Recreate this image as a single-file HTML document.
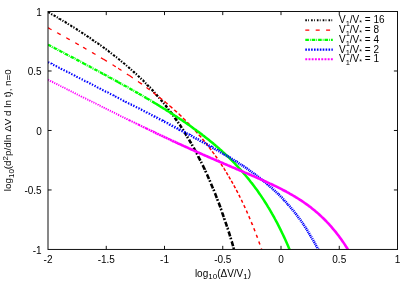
<!DOCTYPE html><html><head><meta charset="utf-8"><style>html,body{margin:0;padding:0;background:#fff}body{width:415px;height:291px;overflow:hidden;position:relative;font-family:"Liberation Sans",sans-serif}</style></head><body><svg width="415" height="291" viewBox="0 0 415 291" style="position:absolute;left:0;top:0;will-change:transform">
<defs><clipPath id="c"><rect x="48.00" y="11.50" width="349.50" height="237.95"/></clipPath></defs>
<rect width="415" height="291" fill="#fff"/>
<g clip-path="url(#c)" fill="none">
<path d="M48.0,11.9L48.2,12.1L49.2,12.7L50.0,13.1M51.2,13.8L51.2,13.8L52.2,14.4L52.3,14.4M53.6,15.2L53.8,15.3L54.8,15.9L55.6,16.4M56.8,17.1L57.0,17.2L57.8,17.7M59.2,18.5L59.2,18.6L60.2,19.2L61.2,19.7M62.4,20.4L62.5,20.5L63.4,21.1M64.7,21.9L64.8,21.9L65.8,22.5L66.7,23.1M67.9,23.8L68.0,23.9L68.9,24.5M70.3,25.3L70.5,25.4L71.5,26.1L72.3,26.5M73.4,27.3L73.5,27.3L74.5,27.9M75.8,28.8L76.0,28.9L77.0,29.5L77.8,30.0M78.9,30.7L79.0,30.8L79.9,31.4M81.2,32.3L81.2,32.3L82.2,32.9L83.2,33.5M84.3,34.3L84.5,34.4L85.4,35.0M86.7,35.8L86.8,35.9L87.8,36.5L88.6,37.1M89.7,37.9L89.8,37.9L90.8,38.6L90.8,38.6M92.1,39.5L92.2,39.6L93.2,40.3L94.0,40.8M95.1,41.5L95.2,41.6L96.1,42.3M97.4,43.2L97.5,43.2L98.5,43.9L99.3,44.5M100.4,45.3L100.5,45.3L101.4,46.0M102.7,46.9L102.8,47.0L103.8,47.7L104.6,48.3M105.7,49.1L105.8,49.1L106.7,49.8M107.9,50.8L108.0,50.8L109.0,51.6L109.8,52.2M110.9,53.0L111.0,53.1L111.9,53.7M113.1,54.7L113.2,54.8L114.2,55.6L115.0,56.1M116.0,57.0L116.2,57.1L117.0,57.7M118.2,58.7L118.2,58.7L119.2,59.5L120.1,60.2M121.1,61.0L121.2,61.1L122.1,61.8M123.3,62.8L123.5,63.0L124.5,63.8L125.1,64.3M126.1,65.2L126.2,65.3L127.0,66.0M128.2,67.0L128.2,67.0L129.2,67.9L130.0,68.5" stroke="#000000" stroke-width="2.10"/>
<path d="M131.0,69.4L131.2,69.6L131.9,70.2M133.1,71.3L133.2,71.4L134.2,72.3L134.8,72.9M135.8,73.8L136.0,73.9L136.7,74.6M137.9,75.7L138.0,75.8L139.0,76.7L139.6,77.3M140.6,78.2L140.8,78.4L141.5,79.1M142.6,80.2L142.8,80.3L143.8,81.3L144.3,81.8M145.2,82.8L145.2,82.8L146.1,83.6M147.2,84.7L147.2,84.8L148.2,85.9L148.8,86.4M149.7,87.4L149.8,87.4L150.6,88.3" stroke="#000000" stroke-width="2.27"/>
<path d="M151.7,89.4L151.8,89.5L152.8,90.6L153.3,91.2M154.2,92.2L154.2,92.3L155.1,93.2M156.1,94.3L156.2,94.5L157.2,95.6L157.9,96.3M158.8,97.4L159.0,97.6L159.6,98.3M160.7,99.6L160.8,99.7L161.8,100.9L162.5,101.8M163.4,102.9L163.5,103.0L164.3,103.9M165.3,105.2L165.5,105.4L166.5,106.7L167.2,107.6M168.2,108.8L168.2,108.9L169.0,109.9" stroke="#000000" stroke-width="2.44"/>
<path d="M170.0,111.3L170.2,111.5L171.2,112.9L172.0,113.9M172.9,115.2L173.0,115.3L173.8,116.3M174.8,117.7L175.0,118.0L176.0,119.4L176.9,120.7M177.8,122.0L178.0,122.3L178.6,123.2M179.6,124.7L179.8,124.9L180.8,126.4L181.7,127.9M182.6,129.2L182.8,129.5L183.4,130.5M184.4,132.1L184.5,132.2L185.5,133.8L186.5,135.5L186.6,135.6M187.2,136.7L187.2,136.7L188.0,138.0M189.0,139.6L189.2,140.0L190.2,141.8L191.2,143.4M191.9,144.5L192.0,144.8L192.6,145.9M193.6,147.6L193.8,147.9L194.8,149.8L195.8,151.6L195.8,151.8M196.4,152.9L196.5,153.0L197.2,154.3M198.1,156.1L198.2,156.4L199.2,158.3L200.2,160.3L200.4,160.6M201.0,161.8L201.0,161.8L201.7,163.2M202.6,165.1L202.8,165.4L203.8,167.5L204.8,169.6L204.8,169.7M205.4,170.9L205.5,171.2L206.1,172.4M206.9,174.3L207.0,174.5L208.0,176.7L209.0,179.0L209.0,179.0M209.6,180.2L209.8,180.7L210.2,181.7M211.0,183.7L211.2,184.2L212.2,186.6L213.0,188.4M213.5,189.6L213.8,190.2L214.1,191.2M214.9,193.1L215.0,193.3L216.0,195.9L216.8,197.9M217.3,199.1L217.5,199.7L217.9,200.7M218.6,202.6L218.8,203.0L219.8,205.7L220.4,207.4M220.8,208.7L221.0,209.1L221.4,210.2M222.1,212.2L222.2,212.6L223.2,215.5L223.8,217.0M224.2,218.3L224.2,218.4L224.8,219.9M225.4,221.8L225.5,222.1L226.5,225.1L227.0,226.7M227.4,228.0L227.5,228.1L228.0,229.5M228.6,231.5L228.8,232.0L229.8,235.2L230.1,236.4M230.5,237.7L230.8,238.4L231.0,239.3M231.6,241.3L231.8,241.7L232.8,245.1L233.1,246.2M233.5,247.5L233.5,247.6L233.9,249.0M234.5,251.1L234.5,251.1L235.2,253.7" stroke="#000000" stroke-width="2.60"/>
<path d="M48.0,27.8L48.2,27.9L49.2,28.4L50.2,29.0L51.2,29.5L51.5,29.7M57.1,32.7L57.2,32.8L58.2,33.3L59.2,33.9L60.2,34.4L60.6,34.7M66.2,37.8L66.2,37.8L67.2,38.3L68.2,38.9L69.2,39.4L69.7,39.7M75.3,42.8L75.5,42.9L76.5,43.5L77.5,44.1L78.5,44.6L78.8,44.8M83.1,47.2L83.2,47.3L84.2,47.9L85.2,48.5L86.2,49.1L86.5,49.2M92.1,52.4L92.2,52.5L93.2,53.1L94.2,53.7L95.2,54.3L95.5,54.5M101.0,57.7L101.2,57.9L102.2,58.5L103.2,59.1L103.6,59.3M103.6,59.3L103.8,59.4L104.8,60.0L105.8,60.6L106.8,61.2L107.0,61.3M112.5,64.7L112.5,64.7L113.5,65.3L114.5,66.0L115.5,66.6L115.8,66.8M118.1,68.3L118.2,68.3L119.2,69.0L120.2,69.6L121.2,70.3L121.5,70.4M126.9,73.9L127.0,74.0L128.0,74.7L129.0,75.3L129.4,75.6M129.4,75.6L129.5,75.6L130.5,76.3L131.5,77.0L132.5,77.7L132.8,77.8" stroke="#ff0000" stroke-width="1.25"/>
<path d="M138.0,81.5L138.2,81.6L138.7,81.9M138.7,81.9L138.8,82.0L139.8,82.7L140.8,83.4L141.8,84.1L141.9,84.2M146.5,87.5L146.5,87.5L147.5,88.2L148.5,89.0L149.5,89.7L149.7,89.8" stroke="#ff0000" stroke-width="1.33"/>
<path d="M153.2,92.5L153.2,92.5L154.2,93.3L155.2,94.1L156.2,94.8L156.4,94.9M159.2,97.1L159.2,97.2L160.2,98.0L161.2,98.8L162.2,99.6L162.3,99.6M164.5,101.4L164.8,101.6L165.8,102.5L166.8,103.3L167.6,104.0M169.4,105.6L169.5,105.7L170.5,106.5L171.5,107.4L172.4,108.2" stroke="#ff0000" stroke-width="1.42"/>
<path d="M174.1,109.7L174.2,109.8L175.2,110.7L176.2,111.6L177.0,112.3M178.7,113.9L178.8,113.9L179.8,114.9L180.8,115.8L181.4,116.5M183.0,118.0L183.2,118.2L184.2,119.2L185.2,120.2L185.7,120.6M187.2,122.2L187.2,122.2L188.2,123.2L189.2,124.2L189.8,124.8M191.2,126.3L191.2,126.3L192.2,127.4L193.2,128.5L193.7,129.0M195.1,130.5L195.2,130.6L196.2,131.7L197.2,132.9L197.5,133.2M198.8,134.7L199.0,134.9L200.0,136.0L201.0,137.2L201.1,137.4M202.4,138.8L202.5,139.0L203.5,140.2L204.5,141.4L204.6,141.6M205.8,143.0L206.0,143.3L207.0,144.5L208.0,145.8M209.1,147.2L209.2,147.4L210.2,148.7L211.2,149.9M212.3,151.4L212.5,151.7L213.5,153.1L214.3,154.1M215.3,155.6L215.5,155.9L216.5,157.3L217.2,158.3M218.2,159.8L218.2,159.8L219.2,161.3L220.1,162.5M221.0,164.0L221.2,164.3L222.2,165.8L222.8,166.7M223.7,168.2L223.8,168.2L224.8,169.8L225.5,170.9M226.3,172.3L226.5,172.6L227.5,174.3L228.0,175.1M228.8,176.5L229.0,176.8L230.0,178.5L230.4,179.3M231.3,180.8L231.5,181.1L232.5,182.9L232.9,183.6M233.8,185.3L234.0,185.6L235.0,187.5L235.4,188.1M236.3,190.0L236.5,190.3L237.5,192.2L237.8,192.8M238.8,194.8L239.0,195.2L240.0,197.2L240.3,197.7M241.3,199.9L241.5,200.2L242.5,202.3L242.7,202.7M243.8,205.1L244.0,205.5L245.0,207.6L245.2,208.0M246.3,210.6L246.5,210.9L247.5,213.2L247.6,213.5M248.8,216.2L249.0,216.6L250.0,219.0L250.1,219.2M251.3,222.2L251.5,222.6L252.5,225.0L252.5,225.1M253.8,228.3L254.0,228.8L255.0,231.3L255.0,231.3M256.3,234.8L256.5,235.2L257.5,237.8M258.8,241.5L259.0,242.0L259.9,244.5M261.3,248.5L261.5,249.0L262.4,251.5" stroke="#ff0000" stroke-width="1.50"/>
<path d="M48.0,44.6L48.2,44.8L49.2,45.3L50.2,45.8L51.2,46.3M52.1,46.8L52.2,46.9L52.8,47.1M53.7,47.6L53.8,47.6L54.8,48.2L55.8,48.7L56.8,49.2L56.9,49.3M57.8,49.7L58.0,49.9L58.5,50.1M59.3,50.6L59.5,50.6L60.5,51.2L61.5,51.7L62.5,52.2L62.5,52.2M63.4,52.7L63.5,52.7L64.1,53.1M65.0,53.5L65.2,53.7L66.2,54.2L67.2,54.7L68.2,55.2M69.1,55.7L69.2,55.8L69.8,56.0M70.7,56.5L70.8,56.6L71.8,57.1L72.8,57.6L73.8,58.1L73.9,58.2M74.7,58.7L74.8,58.7L75.5,59.0M76.3,59.5L76.5,59.6L77.5,60.1L78.5,60.6L79.5,61.2L79.5,61.2M80.4,61.7L80.5,61.7L81.1,62.0M82.0,62.5L82.0,62.5L83.0,63.0L83.1,63.1M83.1,63.1L83.2,63.2L84.2,63.7L85.2,64.2L86.2,64.8M87.1,65.2L87.2,65.3L87.8,65.6M88.7,66.1L88.8,66.1L89.8,66.6L90.8,67.2L91.8,67.7L91.9,67.8M92.8,68.2L93.0,68.4L93.5,68.6M94.4,69.1L94.5,69.2L95.5,69.7L96.5,70.2L97.5,70.8L97.5,70.8M98.4,71.3L98.5,71.3L99.1,71.7M100.0,72.1L100.0,72.1L101.0,72.7L102.0,73.2L103.0,73.8L103.2,73.8M103.6,74.1L103.8,74.2L104.8,74.7L105.8,75.2L106.7,75.8M107.6,76.3L107.8,76.3L108.3,76.7M109.2,77.1L109.2,77.2L110.2,77.7L111.2,78.2L112.2,78.8L112.4,78.9M113.2,79.3L113.2,79.3L113.9,79.7M114.8,80.2L115.0,80.3L116.0,80.9L117.0,81.4L118.0,81.9M118.1,82.0L118.2,82.1L119.2,82.7L120.2,83.2L121.2,83.8L121.3,83.8M122.2,84.3L122.2,84.3L122.9,84.7M123.7,85.1L123.8,85.2L124.8,85.7L125.8,86.3L126.8,86.8L126.9,86.9M127.7,87.4L127.8,87.4L128.4,87.8M129.3,88.3L129.4,88.3M129.4,88.3L129.5,88.4L130.5,88.9L131.5,89.5L132.5,90.1L132.6,90.1" stroke="#00ff00" stroke-width="2.30"/>
<path d="M133.4,90.6L133.5,90.6L134.1,91.0M135.0,91.5L135.0,91.5L136.0,92.1L137.0,92.6L138.0,93.2L138.1,93.3M138.7,93.6L138.8,93.7L139.8,94.2L140.8,94.8L141.8,95.4L141.8,95.4M142.6,95.9L142.8,96.0L143.3,96.3M144.2,96.8L144.2,96.8L145.2,97.4L146.2,98.0L146.5,98.1M146.5,98.1L146.5,98.2L147.5,98.7L148.5,99.3L149.5,99.9L149.6,100.0" stroke="#00ff00" stroke-width="2.40"/>
<path d="M150.4,100.5L150.5,100.5L151.1,100.9M152.0,101.4L152.0,101.4L153.0,102.0L154.0,102.6L155.0,103.2L156.0,103.8L157.0,104.4L158.0,105.0L159.0,105.6L160.0,106.2L161.0,106.9L162.0,107.5L163.0,108.1L164.0,108.7L165.0,109.3L166.0,109.9L167.0,110.6L168.0,111.2L169.0,111.8L170.0,112.5L171.0,113.1L172.0,113.7L173.0,114.4L174.0,115.0L175.0,115.7L176.0,116.3L177.0,117.0L178.0,117.7L179.0,118.3L180.0,119.0L181.0,119.6L182.0,120.3L183.0,121.0L184.0,121.7L185.0,122.3L186.0,123.0L187.0,123.7L188.0,124.4L189.0,125.1L190.0,125.8L191.0,126.5L192.0,127.2L193.0,127.9L194.0,128.7L195.0,129.4L196.0,130.1L197.0,130.9L198.0,131.6L199.0,132.3L200.0,133.1L201.0,133.8L202.0,134.6L203.0,135.4L204.0,136.1L205.0,136.9L206.0,137.7L207.0,138.5L208.0,139.3L209.0,140.1L210.0,140.9L211.0,141.7L212.0,142.5L213.0,143.3L214.0,144.2L215.0,145.0L216.0,145.9L217.0,146.7L218.0,147.6L219.0,148.5L220.0,149.4L221.0,150.2L222.0,151.1L223.0,152.1L224.0,153.0L225.0,153.9L226.0,154.8L227.0,155.8L228.0,156.7L229.0,157.7L230.0,158.7L231.0,159.7L232.0,160.7L233.0,161.7L234.0,162.7L235.0,163.7L236.0,164.8L237.0,165.8L238.0,166.9L239.0,168.0L240.0,169.1L241.0,170.2L242.0,171.3L243.0,172.5L244.0,173.6L245.0,174.8L246.0,176.0L247.0,177.2L248.0,178.4L249.0,179.6L250.0,180.9L251.0,182.2L252.0,183.4L253.0,184.7L254.0,186.1L255.0,187.4L256.0,188.8L257.0,190.1L258.0,191.5L259.0,193.0L260.0,194.4L261.0,195.9L262.0,197.4L263.0,198.9L264.0,200.4L265.0,202.0L266.0,203.5L267.0,205.1L268.0,206.8L269.0,208.4L270.0,210.1L271.0,211.8L272.0,213.6L273.0,215.3L274.0,217.1L275.0,219.0L276.0,220.8L277.0,222.7L278.0,224.6L279.0,226.6L280.0,228.6L281.0,230.6L282.0,232.7L283.0,234.8L284.0,236.9L285.0,239.1L286.0,241.3L287.0,243.5L288.0,245.8L289.0,248.2L290.0,250.5L291.0,252.9L291.2,253.6" stroke="#00ff00" stroke-width="2.50"/>
<path d="M48.0,62.0L48.2,62.2L49.2,62.7M50.6,63.3L50.8,63.4L51.8,63.9L51.8,64.0M53.2,64.7L53.2,64.7L54.2,65.2L54.4,65.3M55.7,66.0L55.8,66.0L56.8,66.5L57.0,66.6M58.3,67.3L58.5,67.4L59.5,67.9L59.6,67.9M60.9,68.6L61.0,68.7L62.0,69.2L62.2,69.3M63.5,69.9L63.5,69.9L64.5,70.5L64.7,70.6M66.1,71.3L66.2,71.3L67.2,71.9L67.3,71.9M68.7,72.6L68.8,72.6L69.8,73.1L69.9,73.2M71.2,73.9L71.2,73.9L72.2,74.4L72.5,74.5M73.8,75.2L74.0,75.3L75.0,75.8L75.1,75.9M76.4,76.5L76.5,76.6L77.5,77.1L77.7,77.2M79.0,77.9L79.0,77.9L80.0,78.4L80.2,78.5M81.6,79.2L81.8,79.3L82.8,79.8L82.8,79.8M84.2,80.5L84.2,80.5L85.2,81.1L85.4,81.1M86.7,81.8L86.8,81.8L87.8,82.3L88.0,82.5M89.3,83.1L89.5,83.2L90.5,83.7L90.6,83.8M91.9,84.5L92.0,84.5L93.0,85.0L93.1,85.1M94.5,85.8L94.5,85.8L95.5,86.3L95.7,86.4M97.1,87.1L97.2,87.2L98.2,87.7L98.3,87.7M99.6,88.4L99.8,88.5L100.8,89.0L100.9,89.1M102.2,89.7L102.2,89.7L103.2,90.3L103.5,90.4M104.8,91.1L105.0,91.2L106.0,91.7L106.1,91.7M107.4,92.4L107.5,92.4L108.5,92.9L108.6,93.0M110.0,93.7L110.0,93.7L111.0,94.2L111.2,94.3M112.6,95.0L112.8,95.1L113.8,95.6L113.8,95.7M115.1,96.3L115.2,96.4L116.2,96.9L116.4,97.0M117.7,97.7L117.8,97.7L118.8,98.2L119.0,98.3M120.3,99.0L120.5,99.1L121.5,99.6L121.5,99.6M122.9,100.3L123.0,100.4L124.0,100.9L124.1,100.9M125.5,101.6L125.5,101.7L126.5,102.2L126.7,102.3M128.0,103.0L128.2,103.1L129.2,103.6L129.3,103.6" stroke="#0000ff" stroke-width="2.10"/>
<path d="M130.6,104.3L130.8,104.3L131.8,104.9L131.9,104.9M133.2,105.6L133.2,105.6L134.2,106.1L134.4,106.2M135.8,106.9L136.0,107.0L137.0,107.6L137.0,107.6M138.4,108.3L138.5,108.3L139.5,108.8L139.6,108.9M140.9,109.6L141.0,109.6L142.0,110.1L142.2,110.2M143.5,110.9L143.8,111.0L144.8,111.5L144.8,111.5M146.1,112.2L146.2,112.3L147.2,112.8L147.3,112.9M148.7,113.6L148.8,113.6L149.8,114.1L149.9,114.2" stroke="#0000ff" stroke-width="2.27"/>
<path d="M151.3,114.9L151.5,115.0L152.5,115.5M153.8,116.2L154.0,116.3L155.0,116.8L155.1,116.9M156.4,117.6L156.5,117.6L157.5,118.1L157.6,118.2M159.0,118.9L159.0,118.9L160.0,119.4L160.2,119.5M161.6,120.2L161.8,120.3L162.8,120.8L162.8,120.9M164.1,121.6L164.2,121.6L165.2,122.1L165.4,122.2M166.7,122.9L166.8,122.9L167.8,123.4L167.9,123.5M169.3,124.2L169.5,124.4L170.5,124.9" stroke="#0000ff" stroke-width="2.44"/>
<path d="M171.8,125.5L172.0,125.7L173.0,126.2M174.3,126.9L174.5,127.0L175.5,127.5M176.7,128.1L176.8,128.2L177.8,128.7L177.9,128.8M179.2,129.4L179.2,129.5L180.2,130.0L180.4,130.1M181.6,130.7L181.8,130.8L182.8,131.3L182.8,131.3M184.0,132.0L184.0,132.0L185.0,132.5L185.2,132.6M186.3,133.2L186.5,133.3L187.5,133.8M188.7,134.5L188.8,134.5L189.8,135.0L189.8,135.1M191.0,135.7L191.0,135.7L192.0,136.2L192.1,136.3M193.2,136.9L193.2,136.9L194.2,137.5L194.4,137.5M195.5,138.1L195.5,138.1L196.5,138.7L196.6,138.7M197.7,139.3L197.8,139.3L198.8,139.9L198.8,139.9M199.9,140.5L200.0,140.6L201.0,141.1L201.0,141.1M202.0,141.7L202.2,141.8L203.2,142.3M204.2,142.9L204.2,142.9L205.2,143.4L205.3,143.5M206.3,144.0L206.5,144.1L207.4,144.6M208.4,145.2L208.5,145.3L209.5,145.8M210.5,146.3L210.5,146.4L211.5,146.9L211.5,147.0M212.5,147.5L212.5,147.5L213.5,148.1L213.6,148.1M214.5,148.6L214.5,148.6L215.5,149.2L215.6,149.2M216.5,149.8L216.5,149.8L217.5,150.3L217.6,150.4M218.4,150.9L218.5,150.9L219.5,151.5L219.5,151.5M220.4,152.0L220.5,152.1L221.4,152.6M222.3,153.1L222.5,153.3L223.3,153.7M224.2,154.2L224.2,154.3L225.2,154.9M226.0,155.4L226.2,155.5L227.1,156.0M227.9,156.5L228.0,156.5L228.9,157.1M229.7,157.6L229.8,157.6L230.7,158.2M231.5,158.7L231.5,158.7L232.5,159.3M233.3,159.7L233.5,159.9L234.3,160.4M235.0,160.8L235.0,160.8L236.0,161.5M236.7,161.9L236.8,161.9L237.7,162.5M238.4,163.0L238.5,163.1L239.4,163.6M240.1,164.1L240.2,164.2L241.0,164.7M241.7,165.2L241.8,165.2L242.7,165.8M243.4,166.3L243.5,166.3L244.3,166.9M245.0,167.4L245.2,167.5L246.0,168.0M246.6,168.5L246.8,168.5L247.6,169.1M248.3,169.6L248.5,169.7L249.2,170.2M249.9,170.7L250.0,170.8L250.8,171.4M251.5,171.9L251.5,171.9L252.4,172.5M253.1,173.0L253.2,173.1L254.0,173.7M254.7,174.2L254.8,174.2L255.6,174.9M256.3,175.4L256.5,175.5L257.2,176.0M257.8,176.5L258.0,176.7L258.8,177.2M259.4,177.7L259.5,177.8L260.3,178.4M261.0,179.0L261.0,179.0L261.9,179.7M262.5,180.2L262.8,180.4L263.4,180.9M264.0,181.4L264.2,181.6L264.9,182.1M265.6,182.7L265.8,182.8L266.4,183.4M267.1,183.9L267.2,184.1L268.0,184.7M268.6,185.2L268.8,185.4L269.4,186.0M270.1,186.5L270.2,186.7L270.9,187.3M271.5,187.8L271.8,188.0L272.4,188.6M273.0,189.1L273.2,189.4L273.9,189.9M274.5,190.5L274.5,190.5L275.3,191.3M275.9,191.8L276.0,191.9L276.7,192.6M277.3,193.2L277.5,193.4L278.1,194.0M278.7,194.6L278.8,194.6L279.5,195.4M280.1,196.0L280.2,196.1L280.9,196.8M281.5,197.4L281.8,197.6L282.3,198.2M282.9,198.8L283.0,198.9L283.7,199.6M284.2,200.2L284.2,200.3L285.0,201.1M285.6,201.7L285.8,201.9L286.3,202.5M286.9,203.1L287.0,203.3L287.6,204.0M288.2,204.6L288.2,204.7L288.9,205.5M289.5,206.1L289.5,206.1L290.2,207.0M290.8,207.6L291.0,207.9L291.5,208.5M292.0,209.1L292.2,209.4L292.7,210.0M293.3,210.7L293.5,210.9L294.0,211.5M294.5,212.2L294.5,212.2L295.2,213.1M295.7,213.7L295.8,213.8L296.4,214.7M296.9,215.3L297.0,215.4L297.6,216.2M298.1,216.9L298.2,217.1L298.8,217.8M299.3,218.5L299.5,218.8L299.9,219.4M300.4,220.1L300.5,220.2L301.1,221.0M301.6,221.7L301.8,222.0L302.2,222.6M302.7,223.3L302.8,223.4L303.3,224.3M303.8,224.9L304.0,225.3L304.4,225.9M304.9,226.6L305.0,226.8L305.5,227.5M305.9,228.2L306.0,228.3L306.6,229.2M307.0,229.9L307.2,230.3L307.6,230.9M308.1,231.6L308.2,231.9L308.7,232.5M309.1,233.2L309.2,233.5L309.7,234.2M310.1,234.9L310.2,235.2L310.7,235.9M311.1,236.6L311.2,236.9L311.7,237.6M312.1,238.3L312.2,238.6L312.7,239.3M313.1,240.1L313.2,240.3L313.6,241.1M314.0,241.8L314.2,242.1L314.6,242.8M315.0,243.5L315.0,243.5L315.5,244.5M315.9,245.2L316.0,245.4L316.5,246.2M316.9,247.0L317.0,247.2L317.4,248.0M317.8,248.7L318.0,249.2L318.3,249.7M318.7,250.5L318.8,250.6L319.2,251.5M319.6,252.2L319.8,252.6L320.1,253.3" stroke="#0000ff" stroke-width="2.60"/>
<path d="M48.0,79.7L48.2,79.8L49.1,80.2M50.1,80.7L50.2,80.8L51.1,81.3M52.1,81.8L52.2,81.8L53.2,82.3M54.2,82.8L54.2,82.8L55.2,83.3M56.2,83.8L56.2,83.8L57.2,84.3L57.3,84.4M58.3,84.9L58.5,85.0L59.3,85.4M60.3,85.9L60.5,86.0L61.4,86.4M62.4,86.9L62.5,87.0L63.4,87.5M64.4,88.0L64.5,88.0L65.5,88.5M66.5,89.0L66.5,89.0L67.5,89.5L67.6,89.5M68.5,90.0L68.8,90.1L69.6,90.6M70.6,91.1L70.8,91.2L71.7,91.6M72.6,92.1L72.8,92.2L73.7,92.6M74.7,93.1L74.8,93.2L75.8,93.7L75.8,93.7M76.8,94.2L77.0,94.3L77.8,94.7M78.8,95.2L79.0,95.3L79.9,95.7M80.9,96.2L81.0,96.3L81.9,96.8M82.9,97.3L83.0,97.3L83.1,97.3M83.1,97.3L83.2,97.4L84.1,97.9M85.1,98.4L85.2,98.4L86.2,98.9M87.2,99.4L87.2,99.4L88.2,99.9L88.3,99.9M89.2,100.4L89.2,100.4L90.2,100.9L90.3,101.0M91.3,101.4L91.5,101.5L92.4,102.0M93.4,102.5L93.5,102.5L94.4,103.0M95.4,103.5L95.5,103.5L96.5,104.0M97.5,104.5L97.5,104.5L98.5,105.0L98.5,105.1M99.5,105.6L99.8,105.7L100.6,106.1M101.6,106.6L101.8,106.7L102.7,107.1M103.6,107.6L103.8,107.6L104.7,108.1M105.6,108.6L105.8,108.6L106.7,109.1M107.7,109.6L107.8,109.6L108.8,110.1L108.8,110.1M109.8,110.6L110.0,110.7L110.8,111.2M111.8,111.6L112.0,111.7L112.9,112.2M113.9,112.7L114.0,112.7L115.0,113.2M116.0,113.7L116.0,113.7L117.0,114.2L117.0,114.2M118.0,114.7L118.1,114.8M118.1,114.8L118.2,114.8L119.2,115.3M120.2,115.8L120.2,115.8L121.2,116.3L121.3,116.3M122.3,116.8L122.5,116.9L123.4,117.3M124.3,117.8L124.5,117.9L125.5,118.4M126.4,118.8L126.5,118.9L127.5,119.3L127.6,119.4M128.5,119.8L128.5,119.8L129.4,120.3M129.4,120.3L129.5,120.3L130.5,120.8L130.7,120.9" stroke="#ff00ff" stroke-width="1.90"/>
<path d="M131.5,121.3L131.8,121.4L132.8,121.9L132.8,121.9M133.6,122.3L133.8,122.4L134.8,122.9L134.9,123.0M135.7,123.3L135.8,123.4L136.8,123.8L137.0,124.0M137.8,124.3L138.0,124.4L138.7,124.8M138.7,124.8L138.8,124.8L139.8,125.3L140.1,125.4M140.8,125.8L141.0,125.9L142.0,126.4L142.2,126.5M142.9,126.8L143.0,126.9L144.0,127.3L144.4,127.5M145.0,127.8L145.0,127.8L146.0,128.3L146.5,128.5M146.5,128.5L146.5,128.5L147.5,129.0L148.0,129.3M148.6,129.5L148.8,129.6L149.8,130.1L150.2,130.3" stroke="#ff00ff" stroke-width="2.13"/>
<path d="M150.7,130.5L150.8,130.6L151.8,131.0L152.3,131.3M152.8,131.6L153.0,131.6L154.0,132.1L154.5,132.4M154.9,132.6L155.0,132.6L156.0,133.1L156.7,133.4M157.1,133.6L157.2,133.7L158.2,134.1L158.8,134.4M159.2,134.6L159.2,134.6L160.2,135.1L161.0,135.4M161.3,135.6L161.5,135.7L162.5,136.1L163.2,136.5M163.5,136.6L163.5,136.6L164.5,137.1L165.4,137.5M165.6,137.6L165.8,137.7L166.8,138.1L167.5,138.5M167.8,138.6L168.0,138.7L169.0,139.2L169.7,139.5M169.9,139.6L170.0,139.6L171.0,140.1L171.9,140.5" stroke="#ff00ff" stroke-width="2.37"/>
<path d="M172.1,140.6L172.2,140.7L173.2,141.2L174.1,141.6M174.3,141.6L174.5,141.7L175.5,142.2L176.3,142.6M176.4,142.6L176.5,142.7L177.5,143.1L178.5,143.6L178.6,143.6M178.6,143.6L178.8,143.7L179.8,144.1L180.8,144.6L180.8,144.6M180.8,144.6L181.0,144.7L182.0,145.2L183.0,145.6L184.0,146.1L185.0,146.5L186.0,147.0L187.0,147.4L188.0,147.9L189.0,148.4L190.0,148.8L191.0,149.3L192.0,149.7L193.0,150.1L194.0,150.6L195.0,151.0L196.0,151.5L197.0,151.9L198.0,152.4L199.0,152.8L200.0,153.3L201.0,153.7L202.0,154.1L203.0,154.6L204.0,155.0L205.0,155.5L206.0,155.9L207.0,156.3L208.0,156.8L209.0,157.2L210.0,157.6L211.0,158.1L212.0,158.5L213.0,158.9L214.0,159.4L215.0,159.8L216.0,160.2L217.0,160.7L218.0,161.1L219.0,161.5L220.0,162.0L221.0,162.4L222.0,162.8L223.0,163.2L224.0,163.7L225.0,164.1L226.0,164.5L227.0,164.9L228.0,165.4L229.0,165.8L230.0,166.2L231.0,166.6L232.0,167.1L233.0,167.5L234.0,167.9L235.0,168.3L236.0,168.8L237.0,169.2L238.0,169.6L239.0,170.0L240.0,170.5L241.0,170.9L242.0,171.3L243.0,171.7L244.0,172.1L245.0,172.6L246.0,173.0L247.0,173.4L248.0,173.8L249.0,174.3L250.0,174.7L251.0,175.1L252.0,175.6L253.0,176.0L254.0,176.4L255.0,176.9L256.0,177.3L257.0,177.7L258.0,178.2L259.0,178.6L260.0,179.0L261.0,179.5L262.0,179.9L263.0,180.4L264.0,180.8L265.0,181.3L266.0,181.7L267.0,182.2L268.0,182.6L269.0,183.1L270.0,183.6L271.0,184.0L272.0,184.5L273.0,185.0L274.0,185.5L275.0,185.9L276.0,186.4L277.0,186.9L278.0,187.4L279.0,187.9L280.0,188.4L281.0,188.9L282.0,189.4L283.0,190.0L284.0,190.5L285.0,191.0L286.0,191.5L287.0,192.1L288.0,192.6L289.0,193.2L290.0,193.8L291.0,194.3L292.0,194.9L293.0,195.5L294.0,196.1L295.0,196.7L296.0,197.3L297.0,197.9L298.0,198.5L299.0,199.2L300.0,199.8L301.0,200.4L302.0,201.1L303.0,201.8L304.0,202.5L305.0,203.2L306.0,203.9L307.0,204.6L308.0,205.3L309.0,206.1L310.0,206.8L311.0,207.6L312.0,208.4L313.0,209.2L314.0,210.0L315.0,210.8L316.0,211.7L317.0,212.5L318.0,213.4L319.0,214.3L320.0,215.2L321.0,216.1L322.0,217.1L323.0,218.0L324.0,219.0L325.0,220.0L326.0,221.0L327.0,222.1L328.0,223.1L329.0,224.2L330.0,225.3L331.0,226.4L332.0,227.6L333.0,228.8L334.0,230.0L335.0,231.2L336.0,232.4L337.0,233.7L338.0,235.0L339.0,236.3L340.0,237.7L341.0,239.1L342.0,240.5L343.0,241.9L344.0,243.4L345.0,244.9L346.0,246.5L347.0,248.0L348.0,249.6L349.0,251.3L350.0,252.9L350.5,253.8" stroke="#ff00ff" stroke-width="2.60"/>
</g>
<g stroke="#111" stroke-width="1" fill="none">
<rect x="48.00" y="11.50" width="349.50" height="237.95"/>
<path d="M106.25,249.45v-3.6 M106.25,11.50v3.6"/>
<path d="M164.50,249.45v-3.6 M164.50,11.50v3.6"/>
<path d="M222.75,249.45v-3.6 M222.75,11.50v3.6"/>
<path d="M281.00,249.45v-3.6 M281.00,11.50v3.6"/>
<path d="M339.25,249.45v-3.6 M339.25,11.50v3.6"/>
<path d="M48.00,70.99h3.6 M397.50,70.99h-3.6"/>
<path d="M48.00,130.47h3.6 M397.50,130.47h-3.6"/>
<path d="M48.00,189.96h3.6 M397.50,189.96h-3.6"/>
</g>
<g style="font-family:'Liberation Sans',sans-serif;font-size:10px" fill="#000">
<text x="48.00" y="263.3" text-anchor="middle">-2</text>
<text x="106.25" y="263.3" text-anchor="middle">-1.5</text>
<text x="164.50" y="263.3" text-anchor="middle">-1</text>
<text x="222.75" y="263.3" text-anchor="middle">-0.5</text>
<text x="281.00" y="263.3" text-anchor="middle">0</text>
<text x="339.25" y="263.3" text-anchor="middle">0.5</text>
<text x="397.50" y="263.3" text-anchor="middle">1</text>
<text x="41.7" y="15.60" text-anchor="end">1</text>
<text x="41.7" y="75.09" text-anchor="end">0.5</text>
<text x="41.7" y="134.57" text-anchor="end">0</text>
<text x="41.7" y="194.06" text-anchor="end">-0.5</text>
<text x="41.7" y="253.55" text-anchor="end">-1</text>
<text x="223" y="277.1" text-anchor="middle">log<tspan style="font-size:8px" dy="2.3">10</tspan><tspan dy="-2.3">(ΔV/V</tspan><tspan style="font-size:8px" dy="2.3">1</tspan><tspan dy="-2.3">)</tspan></text>
<text transform="translate(11.4,130.2) rotate(-90)" text-anchor="middle" style="font-size:9.85px">log<tspan style="font-size:8px" dy="2.3">10</tspan><tspan dy="-2.3">(d</tspan><tspan style="font-size:8px" dy="-3.5">2</tspan><tspan dy="3.5">p/dln ΔV d ln t), n=0</tspan></text>
<path d="M305.3,20.30H332.8" stroke="#000000" stroke-width="2.1" stroke-dasharray="1.6 1.3 0.8 2.1" fill="none"/>
<text x="339" y="23.30">V<tspan style="font-size:7.5px" dy="2.9">1</tspan><tspan dy="-2.9">/V</tspan><tspan style="font-size:7px" dy="1.5">*</tspan><tspan dy="-1.5"> = 16</tspan></text>
<path d="M305.3,30.05H332.8" stroke="#ff0000" stroke-width="1.2" stroke-dasharray="4 6.4" fill="none"/>
<text x="339" y="33.05">V<tspan style="font-size:7.5px" dy="2.9">1</tspan><tspan dy="-2.9">/V</tspan><tspan style="font-size:7px" dy="1.5">*</tspan><tspan dy="-1.5"> = 8</tspan></text>
<path d="M305.3,39.80H332.8" stroke="#00ff00" stroke-width="2.3" stroke-dasharray="3.6 1.0 0.8 1.0" fill="none"/>
<text x="339" y="42.80">V<tspan style="font-size:7.5px" dy="2.9">1</tspan><tspan dy="-2.9">/V</tspan><tspan style="font-size:7px" dy="1.5">*</tspan><tspan dy="-1.5"> = 4</tspan></text>
<path d="M305.3,49.55H332.8" stroke="#0000ff" stroke-width="2.2" stroke-dasharray="1.6 1.3" fill="none"/>
<text x="339" y="52.55">V<tspan style="font-size:7.5px" dy="2.9">1</tspan><tspan dy="-2.9">/V</tspan><tspan style="font-size:7px" dy="1.5">*</tspan><tspan dy="-1.5"> = 2</tspan></text>
<path d="M305.3,59.30H332.8" stroke="#ff00ff" stroke-width="2.1" stroke-dasharray="1.9 1.3" fill="none"/>
<text x="339" y="62.30">V<tspan style="font-size:7.5px" dy="2.9">1</tspan><tspan dy="-2.9">/V</tspan><tspan style="font-size:7px" dy="1.5">*</tspan><tspan dy="-1.5"> = 1</tspan></text>
</g>
</svg></body></html>
